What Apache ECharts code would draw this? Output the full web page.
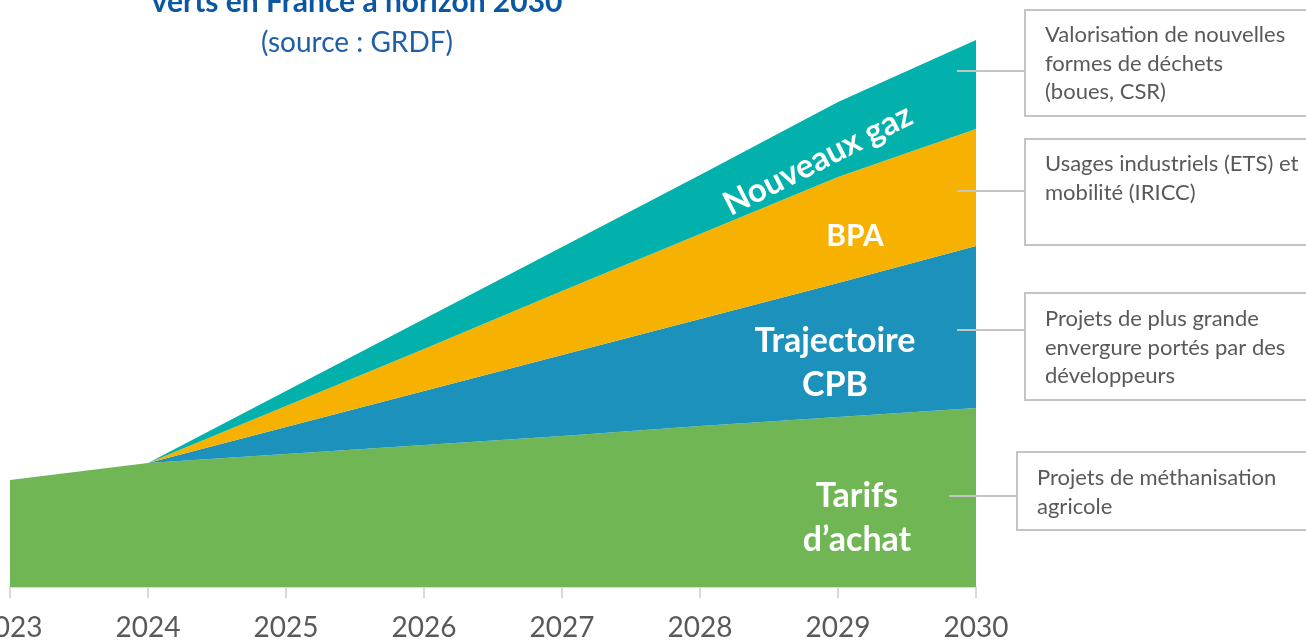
<!DOCTYPE html>
<html><head><meta charset="utf-8">
<script src="https://cdn.jsdelivr.net/npm/echarts@6/dist/echarts.min.js"></script>
<style>html,body{margin:0;padding:0;background:#fff}#c{width:1306px;height:643px}</style>
</head><body><div id="c"></div>
<script>
const years = ['2023','2024','2025','2026','2027','2028','2029','2030'];
const tarifs = [10.7, 12.4, 13.3, 14.2, 15.1, 16.1, 17.0, 17.9];
const trajectoire = [null, 0, 2.7, 5.4, 8.1, 10.7, 13.4, 16.2];
const bpa = [null, 0, 2.1, 4.2, 6.4, 8.5, 10.6, 11.7];
const nouveaux = [null, 0, 1.5, 3.0, 4.4, 5.9, 7.5, 8.9];
const FONT = 'Lato';
const chart = echarts.init(document.getElementById('c'));
function area(name, data, color){
  return {name, type:'line', stack:'s', data, showSymbol:false, symbol:'none',
    lineStyle:{width:0}, areaStyle:{color, opacity:1}, itemStyle:{color}, silent:true};
}
const boxStroke = '#c4c4c4';
function box(x,y,w,h,lines,ty){
  return [
    {type:'rect', z:50, shape:{x,y,width:w,height:h}, style:{fill:'#fff', stroke:boxStroke, lineWidth:2}},
    {type:'text', z:51, x:x+20, y:ty, style:{text:lines, font:'22px '+FONT, fill:'#595959', lineHeight:28.5, verticalAlign:'top'}}
  ];
}
function conn(x1,x2,y){
  return {type:'line', z:50, shape:{x1,y1:y,x2,y2:y}, style:{stroke:boxStroke, lineWidth:2}};
}
const white = (t,size,x,y,rot)=>({type:'text', z:100, x, y, rotation:rot||0,
  style:{text:t, font:'bold '+size+'px '+FONT, fill:'#fff', align:'center', verticalAlign:'middle', lineHeight:size*1.3}});
chart.setOption({
  animation:false,
  grid:{left:10, right:330, top:27, bottom:56, outerBoundsMode:'none', containLabel:false},
  xAxis:{type:'category', data:years, boundaryGap:false,
    axisLine:{lineStyle:{color:'#d9d9d9', width:2}},
    axisTick:{length:11, lineStyle:{color:'#d9d9d9', width:2}},
    axisLabel:{fontSize:28, color:'#595959', fontFamily:FONT, margin:27}},
  yAxis:{type:'value', min:0, max:56, show:false, splitLine:{show:false}},
  series:[
    area('Tarifs d’achat', tarifs, '#70b655'),
    area('Trajectoire CPB', trajectoire, '#1b91bb'),
    area('BPA', bpa, '#f7b100'),
    area('Nouveaux gaz', nouveaux, '#02b0ac')
  ],
  graphic:[
    {type:'text', z:100, x:357, y:-13, style:{text:'verts en France à horizon 2030', font:'bold 30px '+FONT, fill:'#0b57a4', align:'center'}},
    {type:'text', z:100, x:357, y:43, style:{text:'(source : GRDF)', font:'28px '+FONT, fill:'#1f5fa8', align:'center', verticalAlign:'middle'}},
    white('Nouveaux gaz',33,818,160,0.47),
    white('BPA',30,855,236),
    white('Trajectoire\nCPB',34,835,363),
    white('Tarifs\nd’achat',34,857,518),
    conn(957,1025,71), conn(957,1025,191), conn(957,1025,330), conn(949,1017,496),
    ...box(1025,10,300,106,'Valorisation de nouvelles\nformes de déchets\n(boues, CSR)',21),
    ...box(1025,139,300,106,'Usages industriels (ETS) et\nmobilité (IRICC)',150),
    ...box(1025,293,300,107,'Projets de plus grande\nenvergure portés par des\ndéveloppeurs',305),
    ...box(1017,452,300,78,'Projets de méthanisation\nagricole',464)
  ]
});
</script></body></html>
